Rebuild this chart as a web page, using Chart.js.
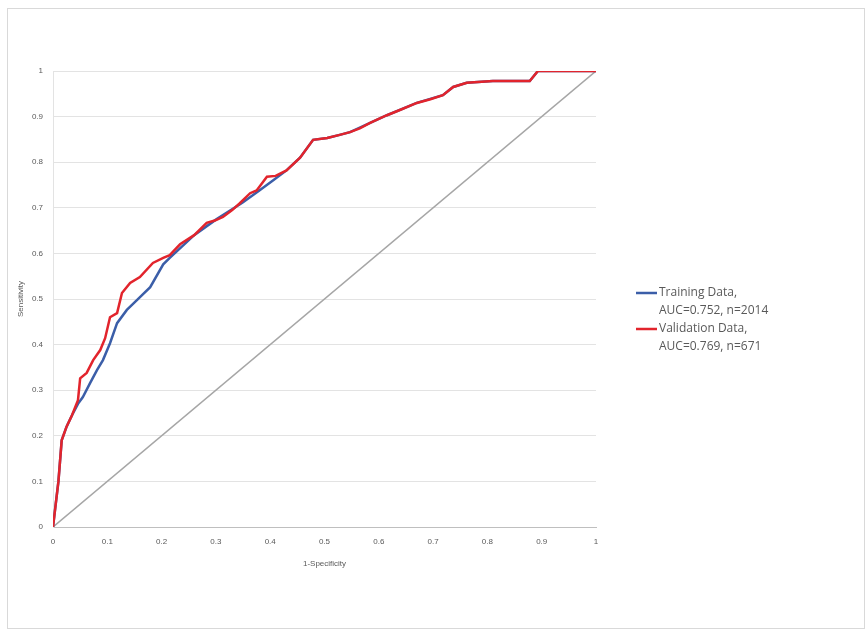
<!DOCTYPE html>
<html lang="en">
<head>
  <meta charset="UTF-8">
  <title>ROC curve</title>
  <script src="https://cdn.jsdelivr.net/npm/chart.js"></script>
  <style>
    html, body { margin: 0; padding: 0; background: #fff; }
    #wrap { position: relative; width: 868px; height: 631px; }
    #frame { position: absolute; left: 7px; top: 8px; width: 858px; height: 621px; border: 1px solid #d9d9d9; box-sizing: border-box; }
    canvas { position: absolute; left: 0; top: 0; }
  </style>
</head>
<body>
  <div id="wrap">
    <div id="frame"></div>
    <canvas id="rocCanvas" width="868" height="631"></canvas>
  </div>
  <script>
    // validation set (red)
    const valFpr = [0, 0.005, 0.01, 0.016, 0.025, 0.035, 0.046, 0.05, 0.062, 0.074, 0.087, 0.096, 0.105, 0.118, 0.127, 0.142, 0.16, 0.184, 0.203, 0.215, 0.234, 0.26, 0.283, 0.298, 0.313, 0.33, 0.344, 0.363, 0.375, 0.394, 0.41, 0.43, 0.455, 0.479, 0.505, 0.528, 0.547, 0.565, 0.584, 0.615, 0.64, 0.67, 0.695, 0.718, 0.737, 0.762, 0.81, 0.878, 0.893, 0.95, 1];
    const valTpr = [0, 0.05, 0.1, 0.19, 0.22, 0.245, 0.278, 0.326, 0.338, 0.366, 0.388, 0.414, 0.46, 0.469, 0.513, 0.535, 0.548, 0.579, 0.59, 0.596, 0.62, 0.64, 0.667, 0.672, 0.68, 0.695, 0.71, 0.732, 0.738, 0.768, 0.77, 0.782, 0.81, 0.849, 0.853, 0.86, 0.866, 0.874, 0.886, 0.903, 0.915, 0.93, 0.938, 0.947, 0.965, 0.974, 0.978, 0.978, 1, 1, 1];
    // training set (blue)
    const trainFpr = [0, 0.005, 0.01, 0.016, 0.025, 0.035, 0.046, 0.055, 0.068, 0.081, 0.092, 0.105, 0.118, 0.136, 0.155, 0.179, 0.203, 0.215, 0.26, 0.3, 0.35, 0.38, 0.405, 0.43, 0.455, 0.479, 0.505, 0.528, 0.547, 0.584, 0.615, 0.67, 0.718, 0.737, 0.762, 0.81, 0.878, 0.893, 0.95, 1];
    const trainTpr = [0, 0.05, 0.1, 0.19, 0.22, 0.245, 0.27, 0.285, 0.315, 0.344, 0.366, 0.403, 0.447, 0.476, 0.498, 0.526, 0.576, 0.59, 0.64, 0.674, 0.712, 0.738, 0.76, 0.782, 0.81, 0.849, 0.853, 0.86, 0.866, 0.886, 0.903, 0.93, 0.947, 0.965, 0.974, 0.978, 0.978, 1, 1, 1];
    const refX = [0, 1];
    const refY = [0, 1];
    const seriesNames = [
      ['Training Data,', 'AUC=0.752, n=2014'],
      ['Validation Data,', 'AUC=0.769, n=671']
    ];
    const xTitle = '1-Specificity';
    const yTitle = 'Sensitivity';

    function toPoints(xs, ys) {
      return xs.map((x, i) => ({ x: x, y: ys[i] }));
    }

    // legend drawn by hand so the labels can wrap onto two lines
    const sideLegend = {
      id: 'sideLegend',
      afterDraw(chart) {
        const ctx = chart.ctx;
        const x0 = 636, lineLen = 21, lh = 18;
        let y = 293;
        ctx.save();
        ctx.font = '12px "Open Sans"';
        ctx.textBaseline = 'middle';
        ctx.fillStyle = '#595959';
        chart.data.datasets.forEach(ds => {
          if (!ds.legendText) return;
          ctx.strokeStyle = ds.borderColor;
          ctx.lineWidth = 2.5;
          ctx.beginPath();
          ctx.moveTo(x0, y);
          ctx.lineTo(x0 + lineLen, y);
          ctx.stroke();
          ds.legendText.forEach((t, i) => {
            ctx.fillText(t, x0 + lineLen + 2, y + i * lh);
          });
          y += ds.legendText.length * lh;
        });
        ctx.restore();
      }
    };

    const fmt = v => String(Math.round(v * 10) / 10);

    new Chart(document.getElementById('rocCanvas'), {
      type: 'scatter',
      data: {
        datasets: [
          {
            label: 'Training Data',
            legendText: seriesNames[0],
            data: toPoints(trainFpr, trainTpr),
            showLine: true,
            borderColor: '#3b5ea8',
            borderWidth: 2.5,
            pointRadius: 0,
            tension: 0,
            order: 1
          },
          {
            label: 'Validation Data',
            legendText: seriesNames[1],
            data: toPoints(valFpr, valTpr),
            showLine: true,
            borderColor: '#e2242c',
            borderWidth: 2.5,
            pointRadius: 0,
            tension: 0,
            order: 0
          },
          {
            label: 'Reference',
            data: toPoints(refX, refY),
            showLine: true,
            borderColor: '#a6a6a6',
            borderWidth: 1.5,
            pointRadius: 0,
            order: 2
          }
        ]
      },
      options: {
        responsive: false,
        animation: false,
        layout: { padding: { left: 8, right: 272, top: 71, bottom: 30 } },
        plugins: {
          legend: { display: false },
          tooltip: { enabled: false }
        },
        scales: {
          x: {
            type: 'linear',
            min: 0,
            max: 1,
            afterFit: s => { s.height = 74; },
            ticks: { stepSize: 0.1, color: '#595959', font: { size: 8 }, padding: 6, maxRotation: 0, callback: fmt },
            grid: { display: false, drawTicks: true, tickLength: 4 },
            border: { color: '#bfbfbf', width: 1 },
            title: { display: true, text: xTitle, color: '#595959', font: { size: 8 }, padding: { top: 4, bottom: 32 } }
          },
          y: {
            type: 'linear',
            min: 0,
            max: 1,
            afterFit: s => { s.width = 45; },
            ticks: { stepSize: 0.1, color: '#595959', font: { size: 8 }, padding: 10, callback: fmt },
            grid: { color: '#e3e3e3', lineWidth: 1, drawTicks: false },
            border: { color: '#e3e3e3', width: 1 },
            title: { display: true, text: yTitle, color: '#595959', font: { size: 8 }, padding: { top: 8, bottom: 0 } }
          }
        }
      },
      plugins: [sideLegend]
    });
  </script>
</body>
</html>
